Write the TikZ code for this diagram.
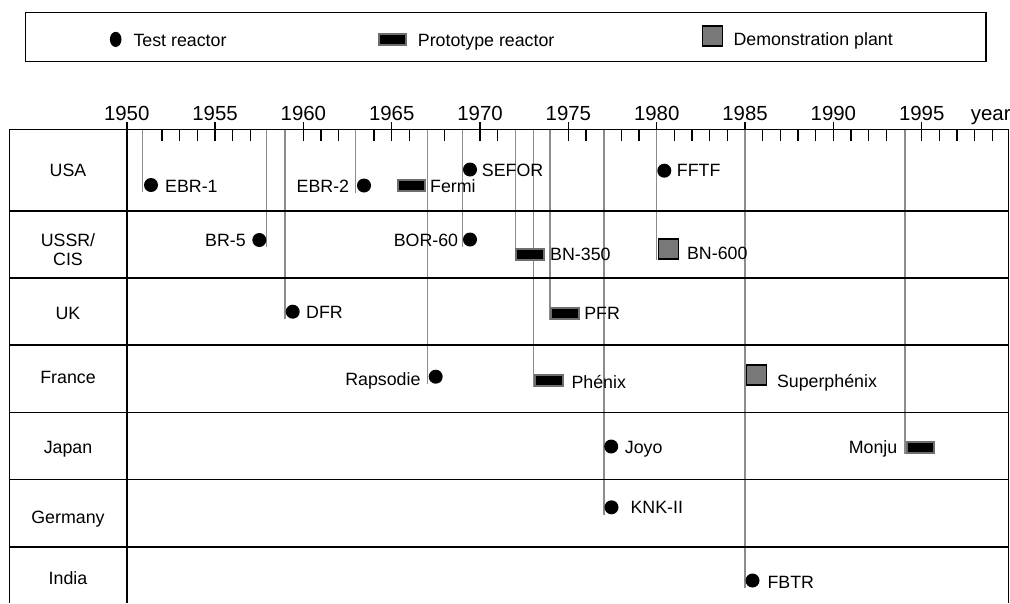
\documentclass[tikz,border=0pt]{standalone}
\usepackage{fontspec}
\setmainfont{Liberation Sans}
\usetikzlibrary{shapes.geometric,backgrounds}
\newcommand\labfont{\fontsize{17.8}{19.3}\selectfont}
\newcommand\yearfont{\fontsize{20.4}{22}\selectfont}
\definecolor{connGray}{HTML}{8C8C8C}
\definecolor{rimGray}{HTML}{6E6E6E}
\definecolor{demoGray}{HTML}{787878}
\begin{document}
\begin{tikzpicture}[x=1pt,y=-1pt,
  frame/.style={line width=1.6pt,black},
  conn/.style={line width=1.5pt,connGray},
  testdot/.style={circle,fill=black,inner sep=0pt,minimum size=14pt},
  protobox/.style={rectangle,fill=black,draw=rimGray,line width=2pt,inner sep=0pt,minimum width=27.6pt,minimum height=11pt},
  demobox/.style={rectangle,fill=demoGray,draw=black,line width=1.8pt,inner sep=0pt,minimum size=20pt},
  lab/.style={font=\labfont,inner sep=0pt,text height=12.74pt,text depth=0pt},
  yearlab/.style={font=\yearfont,inner sep=0pt,text height=14.6pt,text depth=0pt},
  ticktick/.style={line width=1.5pt,black}]
\useasboundingbox (0,0) rectangle (1010,603);

% legend
\node (legend) [draw,line width=1.5pt,inner sep=0pt,minimum width=960.3pt,minimum height=49.4pt] at (505.85,37) {};
\node (lgTest) [ellipse,fill=black,inner sep=0pt,minimum width=11.6pt,minimum height=15.2pt] at (115.7,39.4) {};
\node (lgTestT) [lab,anchor=west] at (133.3,40) {Test reactor};
\node (lgProto) [protobox] at (392.5,39.5) {};
\node (lgProtoT) [lab,anchor=west] at (417.7,40) {Prototype reactor};
\node (lgDemo) [demobox] at (712.5,35.9) {};
\node (lgDemoT) [lab,anchor=west] at (733.3,39.5) {Demonstration plant};

% table frame
\draw[frame] (9.3,129.3) -- (1008.5,129.3);
\foreach \yy in {210.7,277.9,345.1,412.3,479.5,546.7}
  \draw[frame] (9.3,\yy) -- (1008.5,\yy);
\draw[frame] (9.3,129.3) -- (9.3,603);
\draw[frame] (126.7,122.3) -- (126.7,603);
\draw[frame] (1008.5,129.3) -- (1008.5,603);

% ticks
\foreach \yr in {1952,1953,1954,1956,1957,1961,1962,1964,1966,1968,1971,1976,1978,1979,1981,1982,1983,1984,1986,1987,1988,1989,1991,1992,1993,1996,1997,1998,1999}{
  \pgfmathsetmacro\xx{126.7+(\yr-1950)*17.667}
  \draw[ticktick] (\xx,129.3) -- (\xx,140.7);
}
\foreach \yr in {1955,1960,1965,1970,1975,1990,1995}{
  \pgfmathsetmacro\xx{126.7+(\yr-1950)*17.667}
  \draw[ticktick] (\xx,122.3) -- (\xx,140.7);
}
\foreach \yr in {1980,1985}{
  \pgfmathsetmacro\xx{126.7+(\yr-1950)*17.667}
  \draw[ticktick] (\xx,122.3) -- (\xx,129.3);
}
\foreach \yr in {1950,1955,...,1995}{
  \pgfmathsetmacro\xx{126.7+(\yr-1950)*17.667}
  \node (yr\yr) [yearlab] at (\xx,112.8) {\yr};
}
\node (yearT) [font=\yearfont,inner sep=0pt,anchor=base west] at (970.7,120) {year};

% country labels
\node (cUSA) [lab] at (68,170) {USA};
\node (cUSSR) [font=\labfont,inner sep=0pt,align=center,anchor=north] at (68,233.4) {USSR/\\CIS};
\node (cUK) [lab] at (68,312.7) {UK};
\node (cFrance) [lab] at (68,377.3) {France};
\node (cJapan) [lab] at (68,447.3) {Japan};
\node (cGermany) [lab] at (68,517.3) {Germany};
\node (cIndia) [lab] at (68,578.3) {India};

% axis coordinates for connectors
\coordinate (g51) at (142.7,129.3);
\coordinate (g58) at (266.7,129.3);
\coordinate (g59) at (285,129.3);
\coordinate (g63) at (355.7,129.3);
\coordinate (g67) at (427.3,129.3);
\coordinate (g69) at (462.3,129.3);
\coordinate (g72) at (515.5,129.3);
\coordinate (g73) at (533.3,129.3);
\coordinate (g74) at (550,129.3);
\coordinate (g77) at (604,129.3);
\coordinate (g80) at (656.7,129.3);
\coordinate (g85) at (745,129.3);
\coordinate (g94) at (905,129.3);

% markers
\node (ebr1) [testdot] at (151,185) {};
\node (br5) [testdot] at (259.3,240) {};
\node (dfr) [testdot] at (292.7,311.7) {};
\node (ebr2) [testdot] at (364,185.5) {};
\node (fermi) [protobox] at (411.3,185.5) {};
\node (rapsodie) [testdot] at (435.7,376.7) {};
\node (sefor) [testdot] at (470,169.5) {};
\node (bor60) [testdot] at (470,239.5) {};
\node (bn350) [protobox] at (530.2,254) {};
\node (phenix) [protobox] at (549,380) {};
\node (pfr) [protobox] at (565,313) {};
\node (joyo) [testdot] at (611.2,446.5) {};
\node (knk) [testdot] at (611.5,507.3) {};
\node (fftf) [testdot] at (664.3,170.7) {};
\node (bn600) [demobox] at (668.5,249) {};
\node (superphenix) [demobox] at (756.4,375.3) {};
\node (fbtr) [testdot] at (752.5,580.5) {};
\node (monju) [protobox] at (920.3,447.8) {};

% connectors, behind the markers
\begin{pgfonlayer}{background}
\draw[conn] (g51) -- (g51 |- ebr1.south);
\draw[conn] (g58) -- (g58 |- br5.south);
\draw[conn] (g59) -- (g59 |- dfr.south);
\draw[conn] (g63) -- (g63 |- ebr2.south);
\draw[conn] (g67) -- (g67 |- rapsodie.south);
\draw[conn] (g69) -- (g69 |- bor60.south);
\draw[conn] (g72) -- (g72 |- bn350.south);
\draw[conn] (g73) -- (g73 |- phenix.south);
\draw[conn] (g74) -- (g74 |- pfr.south);
\draw[conn] (g77) -- (g77 |- knk.south);
\draw[conn] (g80) -- (g80 |- bn600.south);
\draw[conn] (g85) -- (g85 |- fbtr.south);
\draw[conn] (g94) -- (g94 |- monju.south);
\end{pgfonlayer}

% labels
\node (ebr1T) [lab,anchor=west] at (165,186) {EBR-1};
\node (ebr2T) [lab,anchor=east] at (349.3,186) {EBR-2};
\node (fermiT) [lab,anchor=west] at (430,186) {Fermi};
\node (seforT) [lab,anchor=west] at (481.7,170.5) {SEFOR};
\node (fftfT) [lab,anchor=west] at (676.7,170.5) {FFTF};
\node (br5T) [lab,anchor=east] at (246,240.5) {BR-5};
\node (bor60T) [lab,anchor=east] at (458.3,240) {BOR-60};
\node (bn350T) [lab,anchor=west] at (550,254.3) {BN-350};
\node (bn600T) [lab,anchor=west] at (686.9,253.4) {BN-600};
\node (dfrT) [lab,anchor=west] at (306,312.5) {DFR};
\node (pfrT) [lab,anchor=west] at (584.1,313.5) {PFR};
\node (rapsodieT) [lab,anchor=east] at (420.7,379) {Rapsodie};
\node (phenixT) [lab,anchor=west] at (571.3,382.5) {Phénix};
\node (superphenixT) [lab,anchor=west] at (776.8,381.5) {Superphénix};
\node (joyoT) [lab,anchor=west] at (624.7,447.3) {Joyo};
\node (monjuT) [lab,anchor=east] at (897.5,447.5) {Monju};
\node (knkT) [lab,anchor=west] at (630.4,507.3) {KNK-II};
\node (fbtrT) [lab,anchor=west] at (767.4,581.7) {FBTR};
\end{tikzpicture}
\end{document}
